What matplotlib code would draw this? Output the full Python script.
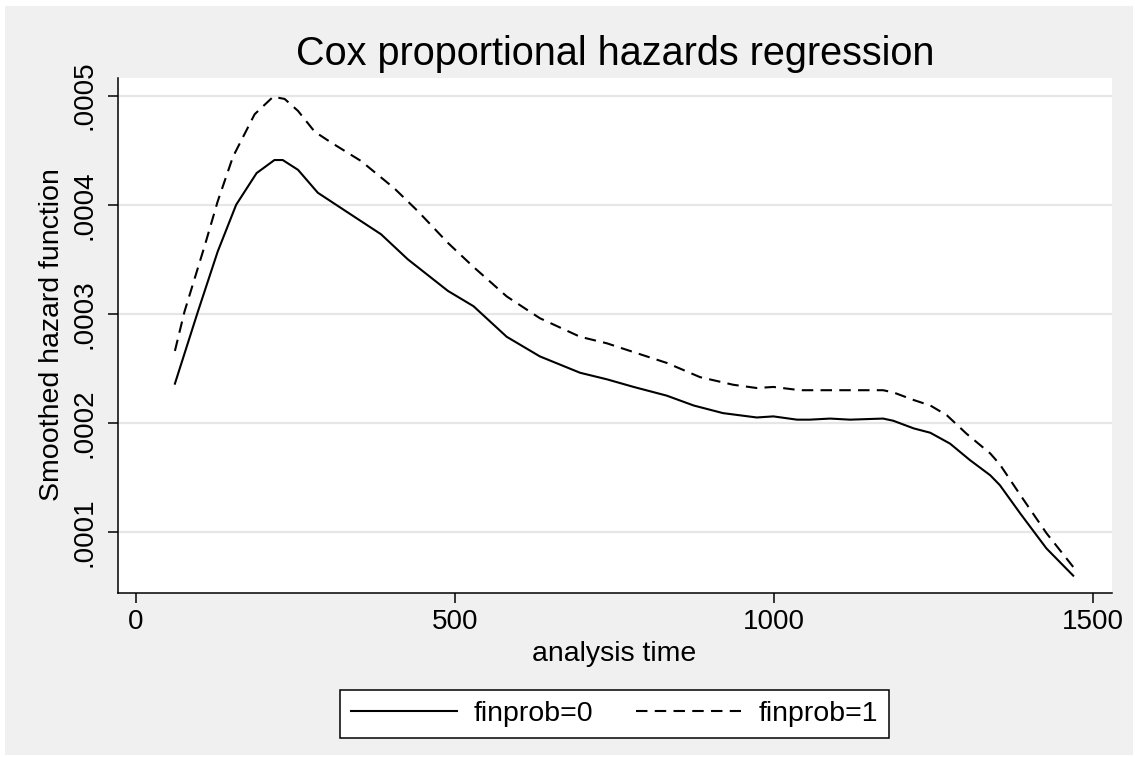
import matplotlib as mpl
import matplotlib.pyplot as plt
from matplotlib.patches import Rectangle

# Values
time_0 = [61, 97, 128, 157, 189, 217, 230, 254, 285, 337, 384, 426, 489,
          529, 581, 633, 696, 738, 780, 832, 874, 920, 973, 999, 1036, 1056,
          1088, 1119, 1171, 1187, 1219, 1245, 1276, 1307, 1339, 1354, 1386,
          1427, 1469]
hazard_0 = [0.000236, 0.000302, 0.000357, 0.000400, 0.000429, 0.000441,
            0.000441, 0.000432, 0.000411, 0.000391, 0.000373, 0.000350,
            0.000321, 0.000307, 0.000279, 0.000261, 0.000246, 0.000240,
            0.000233, 0.000225, 0.000216, 0.000209, 0.000205, 0.000206,
            0.000203, 0.000203, 0.000204, 0.000203, 0.000204, 0.000202,
            0.000195, 0.000191, 0.000181, 0.000166, 0.000152, 0.000143,
            0.000117, 0.000085, 0.000060]

time_1 = [61, 76, 108, 128, 152, 186, 215, 233, 254, 280, 306, 353, 405,
          442, 489, 529, 581, 633, 696, 738, 790, 832, 884, 936, 973, 999,
          1041, 1083, 1135, 1171, 1187, 1219, 1245, 1271, 1302, 1339, 1354,
          1386, 1427, 1469]
hazard_1 = [0.000266, 0.000302, 0.000363, 0.000403, 0.000444, 0.000483,
            0.000499, 0.000497, 0.000486, 0.000467, 0.000457, 0.000440,
            0.000415, 0.000394, 0.000365, 0.000343, 0.000316, 0.000296,
            0.000279, 0.000273, 0.000263, 0.000255, 0.000242, 0.000235,
            0.000232, 0.000233, 0.000230, 0.000230, 0.000230, 0.000230,
            0.000228, 0.000221, 0.000216, 0.000207, 0.000190, 0.000172,
            0.000162, 0.000134, 0.000099, 0.000068]

x_ticks = [0, 500, 1000, 1500]
y_ticks = [0.0001, 0.0002, 0.0003, 0.0004, 0.0005]
y_tick_labels = [".0001", ".0002", ".0003", ".0004", ".0005"]

W, H = 1135, 757
BG = "#F0F0F0"
GRID = "#E6E6E6"

mpl.rcParams.update({
    "font.family": ["Liberation Sans", "DejaVu Sans"],
    "font.size": 20,
})

fig = plt.figure(figsize=(W / 100, H / 100), dpi=100, facecolor="white")
# gray graph region (Stata-like outer area), kept behind the axes
fig.patches.append(Rectangle((5 / W, 2 / H), 1128 / W, 749 / H,
                             transform=fig.transFigure, facecolor=BG,
                             edgecolor="none", zorder=-10))

ax = fig.add_axes([118 / W, 1 - 593 / H, (1112 - 118) / W, (593 - 78) / H])
ax.set_facecolor("white")

ax.plot(time_0, hazard_0, color="black", lw=1.5, label="finprob=0")
ax.plot(time_1, hazard_1, color="black", lw=1.5, dashes=[5.5, 3.5],
        label="finprob=1")

ax.set_xlim(-28.2, 1529.8)
ax.set_ylim(0.0000441, 0.0005162)
ax.set_xticks(x_ticks)
ax.set_yticks(y_ticks)
ax.set_yticklabels(y_tick_labels)
ax.grid(axis="y", color=GRID, lw=1.6)
ax.set_axisbelow(True)

for side in ("top", "right"):
    ax.spines[side].set_visible(False)
for side in ("left", "bottom"):
    ax.spines[side].set_linewidth(1.1)
    ax.spines[side].set_color("black")

ax.tick_params(axis="both", direction="out", length=7.5, width=1.1,
               color="black", labelsize=20)
ax.tick_params(axis="x", pad=4)
ax.tick_params(axis="y", pad=7)
for lab in ax.get_yticklabels():
    lab.set_rotation(90)
    lab.set_va("center")
    lab.set_ha("right")

fig.text(615 / W, 1 - 65 / H, "Cox proportional hazards regression",
         ha="center", va="baseline", fontsize=28.5)
fig.text(614 / W, 1 - 661 / H, "analysis time", ha="center", va="baseline",
         fontsize=20.5)
fig.text(52 / W, 1 - 335 / H, "Smoothed hazard function", ha="center",
         va="center", rotation=90, fontsize=20.5)

leg = fig.legend(loc="center", bbox_to_anchor=(614.5 / W, 1 - 714 / H),
                 ncol=2, fontsize=20.5, handlelength=3.7, handletextpad=0.6,
                 columnspacing=1.5, borderpad=0.4, fancybox=False,
                 framealpha=1, edgecolor="black")
leg.get_frame().set_linewidth(1.1)

fig.savefig("out.png", dpi=100, facecolor=fig.get_facecolor())
